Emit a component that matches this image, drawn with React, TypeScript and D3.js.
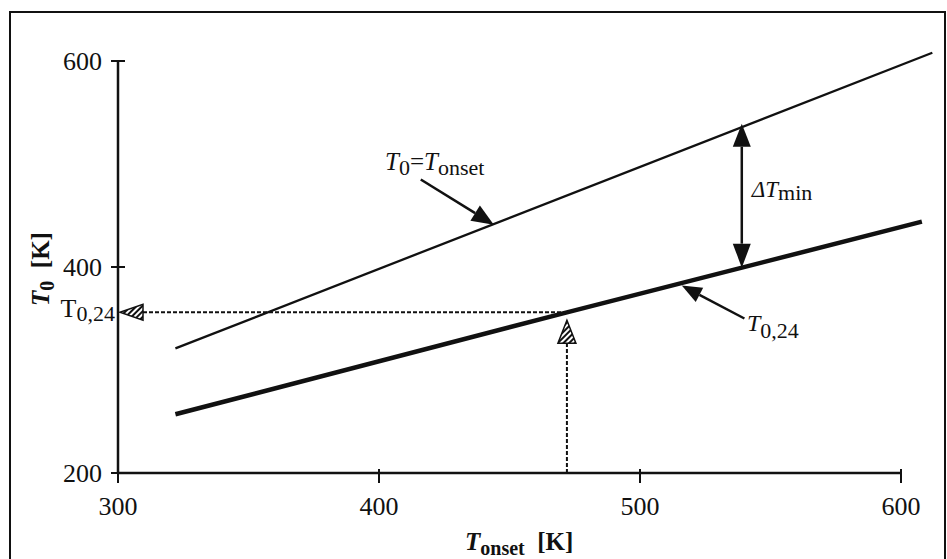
import React from "react";
import * as d3 from "d3";

// axis ticks
const xTicks = [300, 400, 500, 600];
const yTicks = [200, 400, 600];

// T0 = Tonset (thin line)
const onsetX = [322, 612];
const onsetT0 = [321, 608];

// T0,24 (thick line)
const t024X = [322, 472, 608];
const t024T0 = [257, 356, 444];

// read-off point for the dotted guides
const guideOnset = 472;
const guideT0 = 356;

// Tonset where dTmin is measured
const deltaOnset = 539;

// annotation arrows, data units [Tonset, T0]
const onsetArrowFrom = [416, 485];
const onsetArrowTo = [444, 441];
const t024ArrowFrom = [540, 350];
const t024ArrowTo = [516, 382];

const serif = "'Liberation Serif', 'Times New Roman', serif";

function head(tx: number, ty: number, fx: number, fy: number, len = 20, hw = 8) {
  const dx = tx - fx;
  const dy = ty - fy;
  const d = Math.hypot(dx, dy);
  const ux = dx / d;
  const uy = dy / d;
  const bx = tx - ux * len;
  const by = ty - uy * len;
  return {
    pts: `${tx},${ty} ${bx - uy * hw},${by + ux * hw} ${bx + uy * hw},${by - ux * hw}`,
    bx,
    by,
  };
}

export default function App() {
  const width = 947;
  const height = 559;

  const x = d3.scaleLinear().domain([300, 600]).range([118, 901]);
  const y = d3.scaleLinear().domain([200, 600]).range([473, 61]);

  const line = d3
    .line<number[]>()
    .x((d) => x(d[0]))
    .y((d) => y(d[1]));

  const onsetPath = line(onsetX.map((v, i) => [v, onsetT0[i]]));
  const t024Path = line(t024X.map((v, i) => [v, t024T0[i]]));

  // T0,24 at the dTmin position
  const t024At = (v: number) => {
    const i = v < t024X[1] ? 0 : 1;
    const f = (v - t024X[i]) / (t024X[i + 1] - t024X[i]);
    return t024T0[i] + f * (t024T0[i + 1] - t024T0[i]);
  };

  const gx = x(guideOnset);
  const gy = y(guideT0);

  const dX = x(deltaOnset);
  const dTop = y(deltaOnset);
  const dBot = y(t024At(deltaOnset));

  const a1 = head(x(onsetArrowTo[0]), y(onsetArrowTo[1]), x(onsetArrowFrom[0]), y(onsetArrowFrom[1]), 22, 9);
  const a2 = head(x(t024ArrowTo[0]), y(t024ArrowTo[1]), x(t024ArrowFrom[0]), y(t024ArrowFrom[1]), 20, 8);
  const dUp = head(dX, dTop, dX, dBot, 23, 9);
  const dDown = head(dX, dBot, dX, dTop, 24, 9);

  const hLeft = head(x(300) + 2, gy, gx, gy, 23, 8);
  const hUp = head(gx, gy + 8, gx, y(200), 23, 9);

  return (
    <svg
      width={width}
      height={height}
      style={{ position: "absolute", left: 0, top: 0, background: "#fff" }}
      fontFamily={serif}
    >
      <defs>
        <pattern id="hatch" patternUnits="userSpaceOnUse" width={4} height={4} patternTransform="rotate(45)">
          <rect width={4} height={4} fill="#fff" />
          <rect width={2} height={4} fill="#111" />
        </pattern>
      </defs>

      <rect x={10} y={12} width={935} height={580} fill="none" stroke="#111" strokeWidth={2} />

      {/* axes */}
      <line x1={x(300)} x2={x(300)} y1={y(200)} y2={y(600)} stroke="#111" strokeWidth={2.5} />
      <line x1={x(300)} x2={x(600)} y1={y(200)} y2={y(200)} stroke="#111" strokeWidth={2.5} />
      {yTicks.map((t) => (
        <g key={"y" + t}>
          <line x1={x(300) - 7} x2={x(300) + 7} y1={y(t)} y2={y(t)} stroke="#111" strokeWidth={2} />
          <text x={102} y={y(t) + 9} fontSize={26} textAnchor="end" fill="#111">
            {t}
          </text>
        </g>
      ))}
      {xTicks.map((t) => (
        <g key={"x" + t}>
          <line x1={x(t)} x2={x(t)} y1={y(200) - 4} y2={y(200) + 10} stroke="#111" strokeWidth={2} />
          <text x={x(t)} y={515} fontSize={26} textAnchor="middle" fill="#111">
            {t}
          </text>
        </g>
      ))}

      {/* axis titles */}
      <text x={465} y={550} fontSize={25} fontWeight="bold" fill="#111">
        <tspan fontStyle="italic">T</tspan>
        <tspan fontSize={20} dy={5}>onset</tspan>
        <tspan dy={-5} xmlSpace="preserve">{"  [K]"}</tspan>
      </text>
      <text transform="translate(49,269) rotate(-90)" textAnchor="middle" fontSize={25} fontWeight="bold" fill="#111">
        <tspan fontStyle="italic">T</tspan>
        <tspan fontSize={20} dy={5}>0</tspan>
        <tspan dy={-5} xmlSpace="preserve">{"  [K]"}</tspan>
      </text>

      {/* dotted guides */}
      <line x1={hLeft.bx} x2={gx} y1={gy} y2={gy} stroke="#111" strokeWidth={2} strokeDasharray="4 2" />
      <line x1={gx} x2={gx} y1={y(200)} y2={hUp.by} stroke="#111" strokeWidth={2} strokeDasharray="4 2" />
      <polygon points={hLeft.pts} fill="url(#hatch)" stroke="#111" strokeWidth={1.5} />
      <polygon points={hUp.pts} fill="url(#hatch)" stroke="#111" strokeWidth={1.5} />
      <text x={115} y={gy + 5} fontSize={26} textAnchor="end" fill="#111">
        T<tspan fontSize={22} dy={4}>0,24</tspan>
      </text>

      {/* curves */}
      <path d={onsetPath ?? ""} fill="none" stroke="#111" strokeWidth={2.3} />
      <path d={t024Path ?? ""} fill="none" stroke="#111" strokeWidth={4.5} />

      {/* dTmin arrow */}
      <line x1={dX} x2={dX} y1={dUp.by} y2={dDown.by} stroke="#111" strokeWidth={2.5} />
      <polygon points={dUp.pts} fill="#111" />
      <polygon points={dDown.pts} fill="#111" />
      <text x={dX + 10} y={197} fontSize={23} fill="#111">
        <tspan fontStyle="italic">ΔT</tspan>
        <tspan fontSize={22} dy={3}>min</tspan>
      </text>

      {/* T0 = Tonset label */}
      <line x1={x(onsetArrowFrom[0])} y1={y(onsetArrowFrom[1])} x2={a1.bx} y2={a1.by} stroke="#111" strokeWidth={2.5} />
      <polygon points={a1.pts} fill="#111" />
      <text x={385} y={170} fontSize={25} fill="#111">
        <tspan fontStyle="italic">T</tspan>
        <tspan fontSize={22} dy={5}>0</tspan>
        <tspan dy={-5}>=</tspan>
        <tspan fontStyle="italic">T</tspan>
        <tspan fontSize={22} dy={5}>onset</tspan>
      </text>

      {/* T0,24 label */}
      <line x1={x(t024ArrowFrom[0])} y1={y(t024ArrowFrom[1])} x2={a2.bx} y2={a2.by} stroke="#111" strokeWidth={2.5} />
      <polygon points={a2.pts} fill="#111" />
      <text x={747} y={331} fontSize={24} fill="#111">
        <tspan fontStyle="italic">T</tspan>
        <tspan fontSize={22} dy={7}>0,24</tspan>
      </text>
    </svg>
  );
}
